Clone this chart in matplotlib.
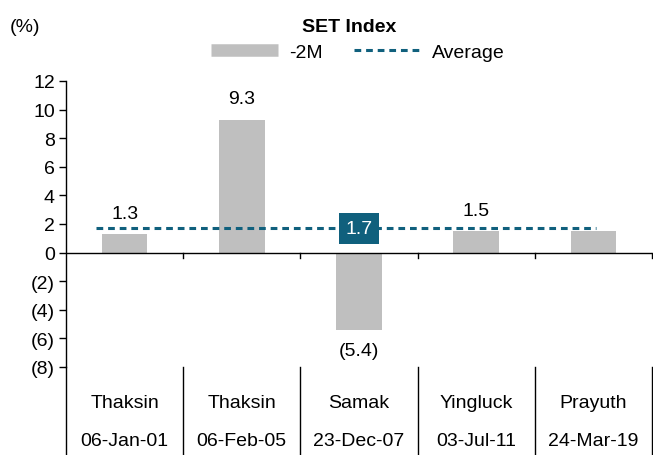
import matplotlib.pyplot as plt
from matplotlib.lines import Line2D

plt.rcParams['font.family'] = ['Liberation Sans', 'DejaVu Sans']

names = ['Thaksin', 'Thaksin', 'Samak', 'Yingluck', 'Prayuth']
dates = ['06-Jan-01', '06-Feb-05', '23-Dec-07', '03-Jul-11', '24-Mar-19']
change_2m = [1.3, 9.3, -5.4, 1.5, 1.5]
shown_labels = ['1.3', '9.3', '(5.4)', '1.5', '']
average = 1.7

bar_col = '#bfbfbf'
teal = '#10607d'
fs = 14

fig = plt.figure(figsize=(6.53, 4.56), dpi=100)
ax = fig.add_axes([66/653, 1-368/456, 586/653, 286/456])

x = list(range(len(names)))
ax.bar(x, change_2m, width=0.39, color=bar_col, zorder=2)
ax.plot([-0.24, 4.02], [average, average], color=teal, lw=2.2, ls=(0, (2.2, 1.6)), zorder=3)

ax.set_xlim(-0.5, 4.5)
ax.set_ylim(-8, 12)
ax.set_yticks(range(-8, 13, 2))
ax.set_yticklabels([str(v) if v >= 0 else '(%d)' % -v for v in range(-8, 13, 2)], fontsize=fs)
ax.tick_params(axis='y', direction='out', length=5, width=1, pad=3)
ax.set_xticks([])

for s in ['top', 'right', 'bottom']:
    ax.spines[s].set_visible(False)
ax.spines['left'].set_linewidth(1)

# zero line with boundary ticks
ax.axhline(0, color='black', lw=1, zorder=4)
for b in [0.5, 1.5, 2.5, 3.5, 4.5]:
    ax.plot([b, b], [0, -0.35], color='black', lw=1, zorder=4, clip_on=False)

# value labels
for i, (v, t) in enumerate(zip(change_2m, shown_labels)):
    if not t:
        continue
    off = 15 if v >= 0 else -15
    ax.annotate(t, (i, v), xytext=(0, off), textcoords='offset points',
                ha='center', va='center', fontsize=fs)

ax.text(2, average, '%.1f' % average, ha='center', va='center', color='white', fontsize=fs,
        zorder=5, bbox=dict(boxstyle='square,pad=0.35', fc=teal, ec='none'))

# category separators below the plot
bottom_frac = -88/286
for b in [-0.5, 0.5, 1.5, 2.5, 3.5, 4.5]:
    ax.plot([b, b], [0, bottom_frac], color='black', lw=1,
            transform=ax.get_xaxis_transform(), clip_on=False)
for i in x:
    ax.text(i, -36/286, names[i], transform=ax.get_xaxis_transform(),
            ha='center', va='center', fontsize=fs)
    ax.text(i, -74/286, dates[i], transform=ax.get_xaxis_transform(),
            ha='center', va='center', fontsize=fs)

fig.text(349/653, 1-27/456, 'SET Index', ha='center', va='center', fontsize=fs, fontweight='bold')
fig.text(10/653, 1-27/456, '(%)', ha='left', va='center', fontsize=fs)

handles = [Line2D([], [], color=bar_col, lw=9, solid_capstyle='butt'),
           Line2D([], [], color=teal, lw=2.2, ls=(0, (2.2, 1.6)))]
fig.legend(handles, ['-2M', 'Average'], loc='center', bbox_to_anchor=(358/653, 1-53/456),
           ncol=2, frameon=False, fontsize=fs, handlelength=3.4, columnspacing=1.6,
           handletextpad=0.6)

fig.savefig('out.png', dpi=100)
